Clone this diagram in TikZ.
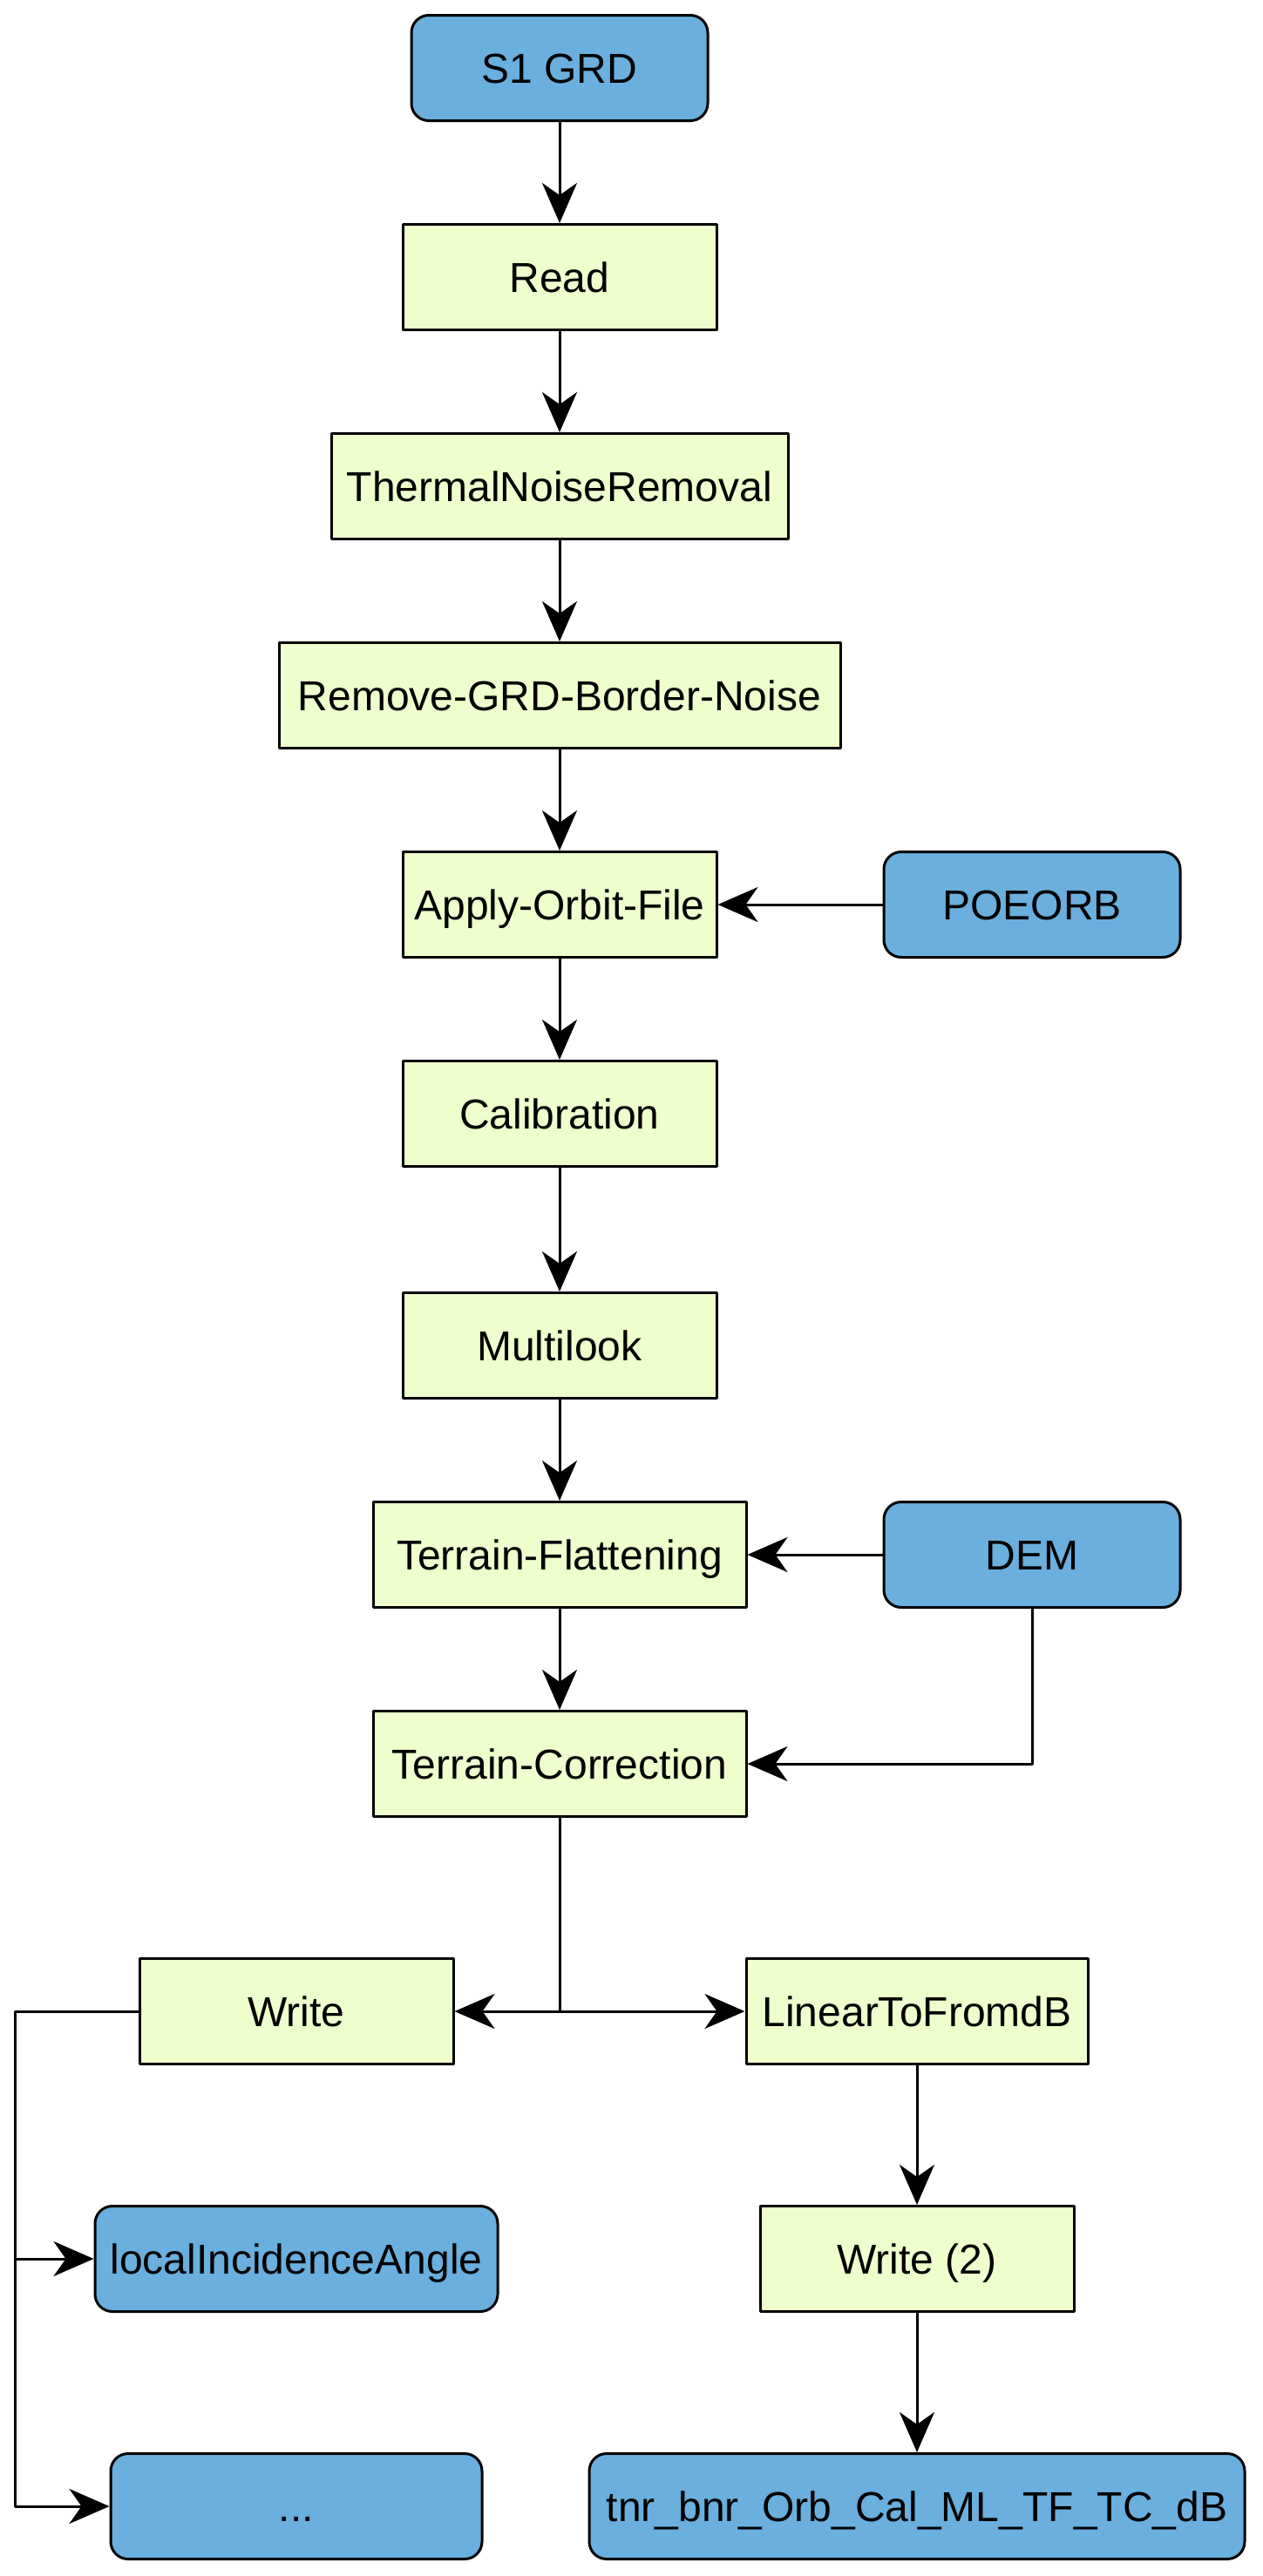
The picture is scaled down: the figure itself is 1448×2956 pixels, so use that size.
\documentclass[tikz,border=0pt]{standalone}
\usepackage{fontspec}
\setmainfont{Liberation Sans}
\usetikzlibrary{arrows.meta}
\definecolor{srcblue}{HTML}{6AAFDD}
\definecolor{opgreen}{HTML}{EEFECC}
\begin{document}
\begin{tikzpicture}[x=0.5pt,y=-0.5pt,>={Stealth[length=23pt,width=20pt,inset=7pt]}, font=\fontsize{24}{28}\selectfont, line join=round,
	io/.style={draw,line width=1.5pt,fill=srcblue,rounded corners=10pt,minimum height=60.5pt,inner sep=0pt,text height=17pt,text depth=0pt},
	op/.style={draw,line width=1.5pt,fill=opgreen,minimum height=60.5pt,inner sep=0pt,text height=17pt,text depth=0pt},
	arr/.style={->,line width=1.5pt}]
		\useasboundingbox (0,0) rectangle (1448,2956);
		\def\xa{642} \def\xl{340} \def\xr{1052} \def\xs{1184} % Cot
		% Chuoi xu ly chinh
		\node[io,minimum width=170pt] (s1) at (\xa,78) {S1 GRD};
		\node[op,minimum width=180pt] (read) at (\xa,318) {Read};
		\node[op,minimum width=262pt] (tnr) at (\xa,558) {ThermalNoiseRemoval};
		\node[op,minimum width=322pt] (bnr) at (\xa,798) {Remove-GRD-Border-Noise};
		\node[op,minimum width=180pt] (orb) at (\xa,1038) {Apply-Orbit-File};
		\node[io,minimum width=170pt] (poeorb) at (\xs,1038) {POEORB};
		\node[op,minimum width=180pt] (cal) at (\xa,1278) {Calibration};
		\node[op,minimum width=180pt] (ml) at (\xa,1544) {Multilook};
		\node[op,minimum width=214pt] (tf) at (\xa,1784) {Terrain-Flattening};
		\node[io,minimum width=170pt] (dem) at (\xs,1784) {DEM};
		\node[op,minimum width=214pt] (tc) at (\xa,2024) {Terrain-Correction};
		% Nhanh ghi
		\node[op,minimum width=180pt] (wr) at (\xl,2308) {Write};
		\node[op,minimum width=196pt] (db) at (\xr,2308) {LinearToFromdB};
		\node[io,minimum width=231pt] (lia) at (\xl,2592) {localIncidenceAngle};
		\node[io,minimum width=213pt] (etc) at (\xl,2876) {...};
		\node[op,minimum width=180pt] (wr2) at (\xr,2592) {Write (2)};
		\node[io,minimum width=376pt] (out) at (\xr,2876) {tnr\_bnr\_Orb\_Cal\_ML\_TF\_TC\_dB};
		\coordinate (split) at (tc.south |- wr.east);
		\coordinate (bus) at (17,2308);
		\draw[arr] (s1)--(read);
		\draw[arr] (read)--(tnr);
		\draw[arr] (tnr)--(bnr);
		\draw[arr] (bnr)--(orb);
		\draw[arr] (poeorb)--(orb);
		\draw[arr] (orb)--(cal);
		\draw[arr] (cal)--(ml);
		\draw[arr] (ml)--(tf);
		\draw[arr] (dem)--(tf);
		\draw[arr] (tf)--(tc);
		\draw[arr] (dem.south) |- (tc.east);
		\draw[line width=1.5pt] (tc.south)--(split);
		\draw[arr] (split)--(wr);
		\draw[arr] (split)--(db);
		\draw[arr] (wr.west)--(bus) |- (etc.west);
		\draw[arr] (bus |- lia.west)--(lia.west);
		\draw[arr] (db)--(wr2);
		\draw[arr] (wr2)--(out);
\end{tikzpicture}
\end{document}
